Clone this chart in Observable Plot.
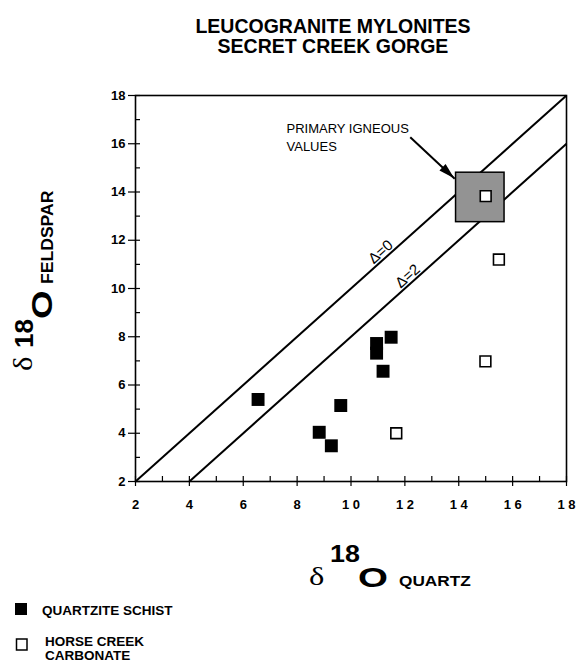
<!DOCTYPE html>
<html><head><meta charset="utf-8">
<script src="https://cdn.jsdelivr.net/npm/d3@7"></script>
<script src="https://cdn.jsdelivr.net/npm/@observablehq/plot@0.6"></script>
<style>
body{margin:0;background:#fff;}
#chart svg{display:block;}
</style></head><body><div id="chart"></div>
<script>
// ---- data ----
const titleLines = ["LEUCOGRANITE MYLONITES", "SECRET CREEK GORGE"];
const schistQuartz   = [6.55, 8.82, 9.27, 9.62, 10.95, 10.95, 11.49, 11.19];
const schistFeldspar = [5.40, 4.04, 3.48, 5.15, 7.72, 7.32, 7.98, 6.57];
const carbQuartz   = [15.0, 15.49, 14.99, 11.68];
const carbFeldspar = [13.83, 11.2, 6.98, 4.0];
const deltas = [0, 2];
const deltaLabels = ["Δ=0", "Δ=2"];
const deltaLabelQuartz = [11.1, 12.1];
const xTicks = [2, 4, 6, 8, 10, 12, 14, 16, 18];
const yTicks = [2, 4, 6, 8, 10, 12, 14, 16, 18];
const minorTicks = [2,3,4,5,6,7,8,9,10,11,12,13,14,15,16,17,18];
const igneousQuartz = [13.9, 15.7];
const igneousFeldspar = [12.75, 14.8];
const arrowFrom = [12.2, 16.27];
const arrowTo = [13.85, 14.55];
const annotationLines = ["PRIMARY IGNEOUS", "VALUES"];
const legendLabels = ["QUARTZITE SCHIST", "HORSE CREEK\nCARBONATE"];

const domain = [xTicks[0], xTicks[xTicks.length - 1]];
const sans = "'Liberation Sans', Arial, Helvetica, sans-serif";
const serif = "'Liberation Serif', 'Times New Roman', serif";

const chart = Plot.plot({
  width: 576, height: 662,
  marginTop: 95, marginRight: 10, marginBottom: 181, marginLeft: 135,
  style: {fontFamily: sans, background: "white", color: "black", overflow: "visible"},
  x: {domain},
  y: {domain},
  marks: [
    Plot.link(deltas, {
      x1: d => domain[0] + d, y1: domain[0],
      x2: domain[1], y2: d => domain[1] - d,
      stroke: "black", strokeWidth: 2
    }),
    Plot.rect([0], {
      x1: igneousQuartz[0], x2: igneousQuartz[1],
      y1: igneousFeldspar[0], y2: igneousFeldspar[1],
      fill: "#939393", stroke: "black", strokeWidth: 1.5
    }),
    Plot.text(deltas, {
      x: (d, i) => deltaLabelQuartz[i], y: (d, i) => deltaLabelQuartz[i] - d,
      text: (d, i) => deltaLabels[i], rotate: -41.8, dy: -10,
      fontSize: 15, textAnchor: "middle"
    }),
    Plot.text([annotationLines.join("\n")], {
      frameAnchor: "top-left", dx: 151, dy: 25, textAnchor: "start",
      lineAnchor: "top", lineHeight: 1.38, fontSize: 13
    }),
    Plot.link([0], {
      x1: arrowFrom[0], y1: arrowFrom[1], x2: arrowTo[0], y2: arrowTo[1],
      stroke: "black", strokeWidth: 2
    }),
    Plot.dot(schistQuartz, {x: schistQuartz, y: schistFeldspar, symbol: "square", r: 7.3, fill: "black"}),
    Plot.dot(carbQuartz, {x: carbQuartz, y: carbFeldspar, symbol: "square", r: 6.1, fill: "white", stroke: "black", strokeWidth: 1.6}),
    Plot.tickX(minorTicks, {x: d => d, insetTop: 381, stroke: "black", strokeWidth: 1.2}),
    Plot.tickY(minorTicks, {y: d => d, insetRight: 426, stroke: "black", strokeWidth: 1.2}),
    Plot.axisX({ticks: xTicks, tickSize: 5, tickPadding: 13, fontSize: 13, fontWeight: "bold", strokeWidth: 1.2}),
    Plot.axisY({ticks: yTicks, tickSize: 7, tickPadding: 3, fontSize: 13, fontWeight: "bold", strokeWidth: 1.2}),
    Plot.frame({stroke: "black", strokeWidth: 1.6})
  ]
});
document.getElementById("chart").appendChild(chart);

const svg = d3.select(chart);
// spaced digits on the x tick labels (as in the reference), keeping the text itself intact
svg.selectAll('g[aria-label="x-axis tick label"] text').each(function() {
  const el = d3.select(this);
  const t = el.text();
  if (t.length > 1) {
    el.text("");
    el.append("tspan").text(t[0]);
    el.append("tspan").attr("dx", 3.5).text(t.slice(1));
  }
});

// filled arrowhead placed through the plot's scales
const sx = chart.scale("x"), sy = chart.scale("y");
const tx = sx.apply(arrowTo[0]), ty = sy.apply(arrowTo[1]);
const fx = sx.apply(arrowFrom[0]), fy = sy.apply(arrowFrom[1]);
const ang = Math.atan2(ty - fy, tx - fx);
const L = 16, Wd = 4.5;
const bx = tx - L * Math.cos(ang), by = ty - L * Math.sin(ang);
svg.append("polygon")
  .attr("points", [[tx, ty], [bx + Wd * Math.sin(ang), by - Wd * Math.cos(ang)], [bx - Wd * Math.sin(ang), by + Wd * Math.cos(ang)]].map(p => p.join(",")).join(" "))
  .attr("fill", "black");

// title
const title = svg.append("g").attr("font-family", sans).attr("font-weight", "bold").attr("font-size", 19.5).attr("text-anchor", "middle");
titleLines.forEach((t, i) => title.append("text").attr("x", 333).attr("y", 32.5 + i * 20.5).text(t));

// x axis label: δ18O QUARTZ
const xl = svg.append("g").attr("font-family", sans).attr("font-weight", "bold").attr("text-anchor", "start");
xl.append("text").attr("transform", "translate(309,585) scale(1.25,1)").attr("font-family", serif).attr("font-weight", "normal").attr("font-size", 26).text("δ");
xl.append("text").attr("transform", "translate(330,562) scale(1.12,1)").attr("font-size", 24).text("18");
xl.append("text").attr("transform", "translate(358,587) scale(1.4,1)").attr("font-size", 27.5).text("O");
xl.append("text").attr("transform", "translate(399,586) scale(1.15,1)").attr("font-size", 15).text("QUARTZ");

// y axis label: δ18O FELDSPAR (rotated)
const yl = svg.append("g").attr("font-family", sans).attr("font-weight", "bold").attr("text-anchor", "start");
yl.append("text").attr("transform", "translate(32,371) rotate(-90) scale(1.1,1)").attr("font-family", serif).attr("font-weight", "normal").attr("font-size", 28).text("δ");
yl.append("text").attr("transform", "translate(33,348) rotate(-90)").attr("font-size", 26).text("18");
yl.append("text").attr("transform", "translate(52,319) rotate(-90) scale(1.27,1)").attr("font-size", 29).text("O");
yl.append("text").attr("transform", "translate(53,284) rotate(-90) scale(1.1,1)").attr("font-size", 16).text("FELDSPAR");

// legend
const lg = svg.append("g").attr("font-family", sans).attr("font-weight", "bold").attr("font-size", 13.5).attr("text-anchor", "start");
lg.append("rect").attr("x", 15).attr("y", 603).attr("width", 12).attr("height", 12).attr("fill", "black");
lg.append("text").attr("x", 42).attr("y", 615).text(legendLabels[0]);
lg.append("rect").attr("x", 16.5).attr("y", 639).attr("width", 10.5).attr("height", 11).attr("fill", "white").attr("stroke", "black").attr("stroke-width", 1.5);
legendLabels[1].split("\n").forEach((t, i) => lg.append("text").attr("x", 45).attr("y", 646 + i * 13.5).text(t));
</script></body></html>
